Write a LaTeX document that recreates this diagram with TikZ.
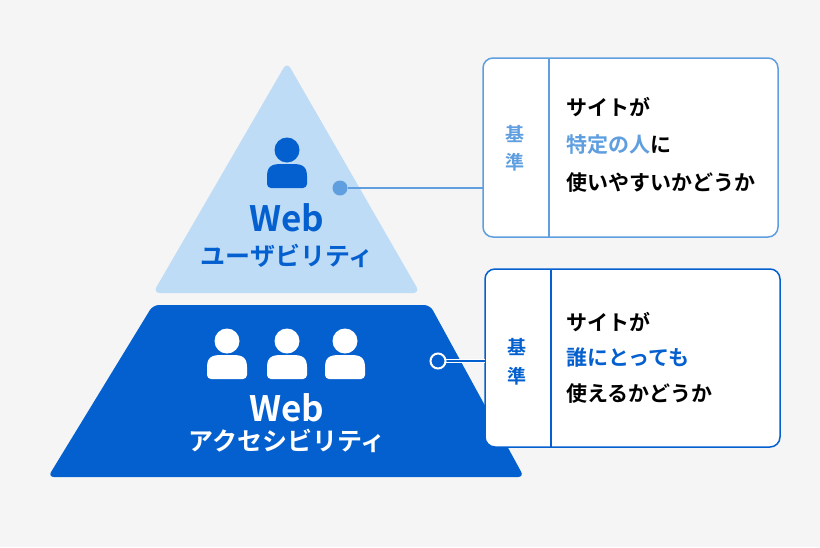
\documentclass[tikz,border=0pt]{standalone}
\usepackage{fontspec}
\setmainfont{Noto Sans CJK JP}[BoldFont={* Bold}]
\newfontfamily\jpb{Noto Sans CJK JP Bold}
\definecolor{bg}{HTML}{F5F5F5}
\definecolor{lb}{HTML}{BFDCF7}
\definecolor{db}{HTML}{0560CF}
\definecolor{mb}{HTML}{5F9FE0}
\tikzset{
  person/.pic={\fill (0,-18) circle (12.5);
    \fill[rounded corners=4] (-20,20) -- (-20,12) .. controls (-20,-4) and (-12,-4) .. (0,-4) .. controls (12,-4) and (20,-4) .. (20,12) -- (20,20) -- cycle;},
  boxtext/.style={anchor=west,font=\jpb\fontsize{21}{24}\selectfont,inner sep=0},
  kijun/.style={font=\jpb\fontsize{19}{22}\selectfont,inner sep=0},
  title/.style={font=\jpb\fontsize{35}{36}\selectfont,inner sep=0},
  sub/.style={font=\jpb\fontsize{25}{26}\selectfont,inner sep=0}
}
\begin{document}
\begin{tikzpicture}[x=1pt,y=-1pt]
\fill[bg] (0,0) rectangle (820,547);
\fill[lb,rounded corners=7] (287,62) -- (420,293) -- (153,293) -- cycle;
\fill[db,rounded corners=6] (153,305) -- (430,305) -- (524,477) -- (48,477) -- cycle;
\pic[db] at (287,168) {person};
\foreach \x in {227,287,345} \pic[white] at (\x,359) {person};
\node[title,text=db] (w1) at (287,218) {Web};
\node[sub,text=db] (u1) at (287,256) {ユーザビリティ};
\node[title,text=white] (w2) at (287,408) {Web};
\node[sub,text=white] (u2) at (287,441) {アクセシビリティ};
\draw[mb,line width=1.5,fill=white,rounded corners=10] (483,58) rectangle (778,237);
\draw[mb,line width=1.5] (549,58) -- (549,237);
\draw[db,line width=1.5,fill=white,rounded corners=10] (485,269) rectangle (780,447);
\draw[db,line width=1.5] (551,269) -- (551,447);
\coordinate (b1) at (483,188);
\coordinate (b2) at (485,361);
\node[circle,fill=mb,minimum size=15,inner sep=0] (d1) at (340,188) {};
\draw[mb,line width=1.5] (d1) -- (b1);
\draw[white,line width=4] (445,361) -- (b2);
\draw[db,line width=1.5] (445,361) -- (b2);
\node[circle,draw=white,line width=2,fill=db,minimum size=15,inner sep=0] (d2) at (438,361) {};
\node[kijun,text=mb] (k1) at (515,134) {基};
\node[kijun,text=mb] (k2) at (515,162) {準};
\node[kijun,text=db] (k3) at (517,347) {基};
\node[kijun,text=db] (k4) at (517,376) {準};
\node[boxtext] (t1) at (566,107) {サイトが};
\node[boxtext] (t2) at (566,145) {\textcolor{mb}{特定の人}に};
\node[boxtext] (t3) at (566,183) {使いやすいかどうか};
\node[boxtext] (t4) at (566,322) {サイトが};
\node[boxtext] (t5) at (566,358) {\textcolor{db}{誰にとっても}};
\node[boxtext] (t6) at (566,394) {使えるかどうか};
\end{tikzpicture}
\end{document}
